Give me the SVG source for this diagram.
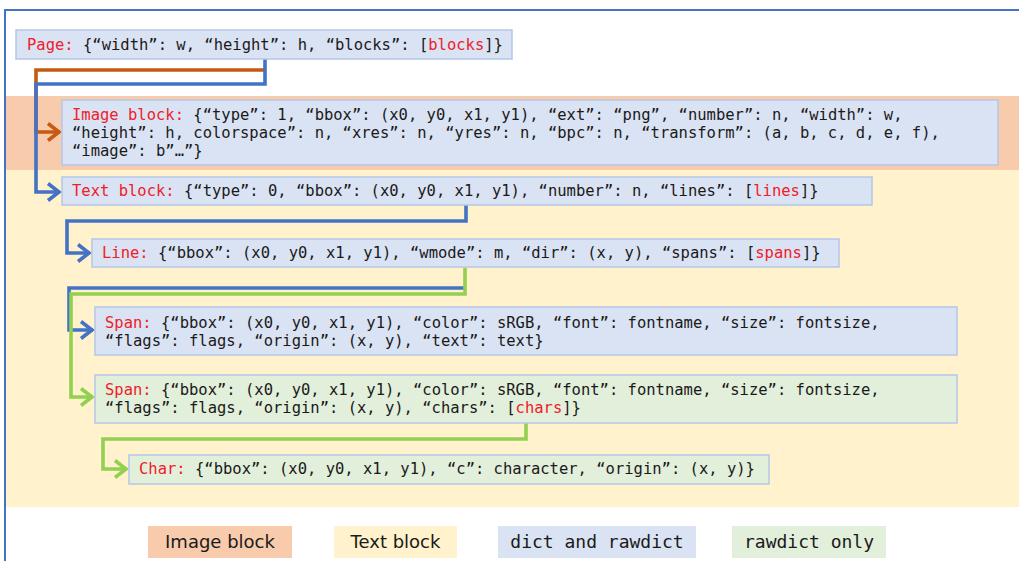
<svg xmlns="http://www.w3.org/2000/svg" width="1019" height="561" viewBox="0 0 1019 561">
<style>
.box{fill:#dae3f3;stroke:#b4c7e7;stroke-width:1.5}
.gbox{fill:#e2efda;stroke:#b4c7e7;stroke-width:1.5}
.t{font-family:"DejaVu Sans Mono","Liberation Mono",monospace;font-size:15.5px;fill:#1a1a1a;white-space:pre}
.r{fill:#f0202a}
.lg{font-family:"DejaVu Sans","Liberation Sans",sans-serif;font-size:18px;fill:#1a1a1a}
.lgm{font-family:"DejaVu Sans Mono","Liberation Mono",monospace;font-size:18px;fill:#1a1a1a}
.c{fill:none;stroke-width:3.6;stroke-linejoin:miter}
.cb{stroke:#4472c4}
.co{stroke:#c55a11}
.cg{stroke:#92d050}
</style>
<defs>
<marker id="ab" markerUnits="userSpaceOnUse" viewBox="0 0 16 22" refX="14" refY="11" markerWidth="16" markerHeight="22" orient="auto"><path d="M2,2.5 L13,11 L2,19.5" fill="none" stroke="#4472c4" stroke-width="3.6"/></marker>
<marker id="ao" markerUnits="userSpaceOnUse" viewBox="0 0 16 22" refX="14" refY="11" markerWidth="16" markerHeight="22" orient="auto"><path d="M2,2.5 L13,11 L2,19.5" fill="none" stroke="#c55a11" stroke-width="3.6"/></marker>
<marker id="ag" markerUnits="userSpaceOnUse" viewBox="0 0 16 22" refX="14" refY="11" markerWidth="16" markerHeight="22" orient="auto"><path d="M2,2.5 L13,11 L2,19.5" fill="none" stroke="#92d050" stroke-width="3.6"/></marker>
</defs>
<rect x="0" y="0" width="1019" height="561" fill="#ffffff"/>
<g id="bands">
<rect x="5" y="96" width="1014" height="74" fill="#f8cbad"/>
<rect x="5" y="170" width="1014" height="337" fill="#fff2cc"/>
</g>
<rect id="frame" x="5" y="10" width="1020" height="560" fill="none" stroke="#4472c4" stroke-width="2"/>
<g id="connectors">
<path class="c co" d="M264,70 H36 V132 H60" marker-end="url(#ao)"/>
<path class="c cb" d="M265,59 V84 H36 V192 H60" marker-end="url(#ab)"/>
<path class="c cb" d="M466,205 V221 H67 V253 H90" marker-end="url(#ab)"/>
<path class="c cb" d="M465,288 H69 V330 H93" marker-end="url(#ab)"/>
<path class="c cg" d="M465,268 V294 H71 V397 H93" marker-end="url(#ag)"/>
<path class="c cg" d="M526,423 V439 H103 V469 H127" marker-end="url(#ag)"/>
</g>
<g id="page">
<rect class="box" x="16" y="30" width="496" height="29"/>
<text class="t" x="27" y="50"><tspan class="r">Page:</tspan> {“width”: w, “height”: h, “blocks”: [<tspan class="r">blocks</tspan>]}</text>
</g>
<g id="image-block">
<rect class="box" x="62" y="100" width="936" height="65"/>
<text class="t" x="72" y="120"><tspan class="r">Image block:</tspan> {“type”: 1, “bbox”: (x0, y0, x1, y1), “ext”: “png”, “number”: n, “width”: w,</text>
<text class="t" x="72" y="138">“height”: h, colorspace”: n, “xres”: n, “yres”: n, “bpc”: n, “transform”: (a, b, c, d, e, f),</text>
<text class="t" x="72" y="156">“image”: b”…”}</text>
</g>
<g id="text-block">
<rect class="box" x="62" y="177" width="810" height="28"/>
<text class="t" x="72" y="196"><tspan class="r">Text block:</tspan> {“type”: 0, “bbox”: (x0, y0, x1, y1), “number”: n, “lines”: [<tspan class="r">lines</tspan>]}</text>
</g>
<g id="line">
<rect class="box" x="92" y="239" width="747" height="28"/>
<text class="t" x="102" y="258"><tspan class="r">Line:</tspan> {“bbox”: (x0, y0, x1, y1), “wmode”: m, “dir”: (x, y), “spans”: [<tspan class="r">spans</tspan>]}</text>
</g>
<g id="span-dict">
<rect class="box" x="95" y="307" width="862" height="48"/>
<text class="t" x="105" y="328"><tspan class="r">Span:</tspan> {“bbox”: (x0, y0, x1, y1), “color”: sRGB, “font”: fontname, “size”: fontsize,</text>
<text class="t" x="105" y="346">“flags”: flags, “origin”: (x, y), “text”: text}</text>
</g>
<g id="span-rawdict">
<rect class="gbox" x="95" y="375" width="862" height="48"/>
<text class="t" x="105" y="395"><tspan class="r">Span:</tspan> {“bbox”: (x0, y0, x1, y1), “color”: sRGB, “font”: fontname, “size”: fontsize,</text>
<text class="t" x="105" y="413">“flags”: flags, “origin”: (x, y), “chars”: [<tspan class="r">chars</tspan>]}</text>
</g>
<g id="char">
<rect class="gbox" x="129" y="455" width="640" height="29"/>
<text class="t" x="139" y="474"><tspan class="r">Char:</tspan> {“bbox”: (x0, y0, x1, y1), “c”: character, “origin”: (x, y)}</text>
</g>
<g id="legend">
<g id="legend-image"><rect x="148" y="526" width="144" height="32" fill="#f8cbad"/><text class="lg" x="220" y="548" text-anchor="middle">Image block</text></g>
<g id="legend-text"><rect x="334" y="526" width="123" height="32" fill="#fff2cc"/><text class="lg" x="395.5" y="548" text-anchor="middle">Text block</text></g>
<g id="legend-dict"><rect x="498" y="526" width="198" height="32" fill="#dae3f3"/><text class="lgm" x="597" y="548" text-anchor="middle">dict and rawdict</text></g>
<g id="legend-raw"><rect x="732" y="526" width="154" height="32" fill="#e2efda"/><text class="lgm" x="809" y="548" text-anchor="middle">rawdict only</text></g>
</g>
</svg>
